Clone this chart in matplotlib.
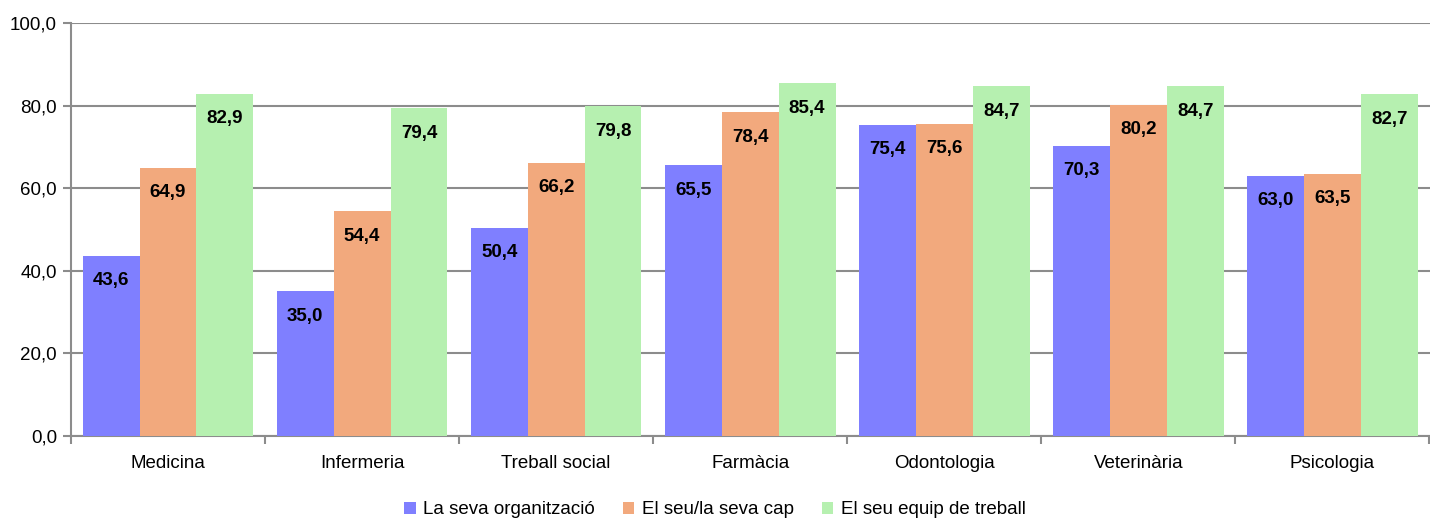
import matplotlib
matplotlib.use("Agg")
import matplotlib.pyplot as plt
import numpy as np
from matplotlib.patches import Patch

categories = ["Medicina", "Infermeria", "Treball social", "Farmàcia", "Odontologia", "Veterinària", "Psicologia"]
series_names = ["La seva organització", "El seu/la seva cap", "El seu equip de treball"]
organitzacio = [43.6, 35.0, 50.4, 65.5, 75.4, 70.3, 63.0]
cap = [64.9, 54.4, 66.2, 78.4, 75.6, 80.2, 63.5]
equip = [82.9, 79.4, 79.8, 85.4, 84.7, 84.7, 82.7]
colors = ["#7f7fff", "#f2a97d", "#b6f0b0"]
yticks = [0, 20, 40, 60, 80, 100]

plt.rcParams['font.family'] = ['Liberation Sans', 'DejaVu Sans']

fig = plt.figure(figsize=(14.3, 5.22), dpi=100)
ax = fig.add_axes([71/1430, 1-436/522, 1-71/1430 - 0.5/1430, (436-23)/522])

x = np.arange(len(categories))
w = 0.293
for i, (vals, c) in enumerate(zip([organitzacio, cap, equip], colors)):
    pos = x + (i - 1) * w
    ax.bar(pos, vals, width=w, color=c, zorder=3)
    for p, v in zip(pos, vals):
        ax.annotate(f"{v:.1f}".replace(".", ","), (p, v), xytext=(0, -25),
                    textcoords="offset pixels",
                    ha="center", va="center", fontsize=13.5, fontweight="bold", zorder=4)

ax.set_xlim(-0.5, len(categories) - 0.5)
ax.set_ylim(0, 100)
ax.set_yticks(yticks)
ax.set_yticklabels([f"{t:.1f}".replace(".", ",") for t in yticks], fontsize=13.5)
ax.yaxis.grid(True, color="#8c8c8c", linewidth=1.5, zorder=0)
ax.set_axisbelow(True)

ax.set_xticks(np.arange(len(categories) + 1) - 0.5)
ax.set_xticklabels([])
ax.set_xticks(x, minor=True)
ax.set_xticklabels(categories, minor=True, fontsize=13.5)
ax.tick_params(axis="x", which="minor", length=0, pad=14)
ax.tick_params(axis="x", which="major", length=6, color="#8c8c8c", width=1.5)
ax.tick_params(axis="y", length=6, color="#8c8c8c", width=1.5, pad=4)

for s in ["top", "right"]:
    ax.spines[s].set_visible(False)
for s in ["left", "bottom"]:
    ax.spines[s].set_color("#8c8c8c")
    ax.spines[s].set_linewidth(1.5)

handles = [Patch(facecolor=c, label=n) for c, n in zip(colors, series_names)]
fig.legend(handles=handles, loc="center", bbox_to_anchor=(0.5, 1-510/522), ncol=3,
           frameon=False, fontsize=13.5, handlelength=0.6, handleheight=0.6,
           handletextpad=0.4, columnspacing=1.5)

fig.savefig("out.png", dpi=100)
